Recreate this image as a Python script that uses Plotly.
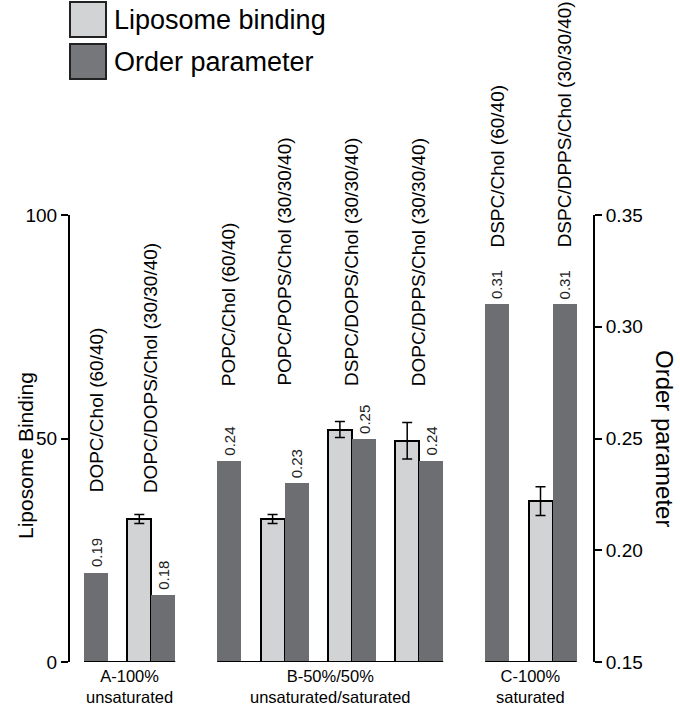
import plotly.graph_objects as go

# ---------------- data ----------------
compositions = ["DOPC/Chol (60/40)", "DOPC/DOPS/Chol (30/30/40)",
                "POPC/Chol (60/40)", "POPC/POPS/Chol (30/30/40)",
                "DSPC/DOPS/Chol (30/30/40)", "DOPC/DPPS/Chol (30/30/40)",
                "DSPC/Chol (60/40)", "DSPC/DPPS/Chol (30/30/40)"]
groups = ["A", "A", "B", "B", "B", "B", "C", "C"]
group_names = {"A": "A-100%<br>unsaturated",
               "B": "B-50%/50%<br>unsaturated/saturated",
               "C": "C-100%<br>saturated"}
binding = [None, 32.0, None, 32.0, 52.0, 49.5, None, 36.0]
binding_err = [None, 1.0, None, 1.0, 1.8, 4.1, None, 3.2]
order = [0.19, 0.18, 0.24, 0.23, 0.25, 0.24, 0.31, 0.31]
left_ticks = [0, 50, 100]
right_ticks = [0.15, 0.20, 0.25, 0.30, 0.35]

# ---------------- layout constants ----------------
W, H = 680, 707
ML, MR, MT, MB = 70, 87, 215, 45
PW = W - ML - MR
PH = H - MT - MB
BAR_W, GAP, GROUP_GAP, START = 24.0, 19.3, 42, 14
LIGHT = "#d2d3d5"
DARK = "#6d6e71"
FONT = "Liberation Sans, Arial, Helvetica, sans-serif"
label_bottom = {"A": 37.4, "B": 61.3, "C": 92.2}   # where rotated labels start (left-axis units)
label_on_dark = {"DSPC/DPPS/Chol (30/30/40)"}

# ---------------- positions ----------------
light_x, dark_x, label_x = [], [], []
group_extent = {}
cursor = START
prev = None
for i, comp in enumerate(compositions):
    g = groups[i]
    if prev is not None:
        cursor += GROUP_GAP if g != prev else GAP
    if g not in group_extent:
        group_extent[g] = [cursor, cursor]
    if binding[i] is not None:
        light_x.append(cursor + BAR_W / 2)
        cursor += BAR_W
        lx = cursor
    else:
        light_x.append(None)
        lx = None
    dark_x.append(cursor + BAR_W / 2)
    if lx is None or comp in label_on_dark:
        lx = cursor + BAR_W / 2
    cursor += BAR_W
    label_x.append(lx)
    group_extent[g][1] = cursor
    prev = g

fig = go.Figure()

lx_vals = [light_x[i] for i in range(len(compositions)) if binding[i] is not None]
ly_vals = [binding[i] for i in range(len(compositions)) if binding[i] is not None]
le_vals = [binding_err[i] for i in range(len(compositions)) if binding[i] is not None]

fig.add_trace(go.Bar(
    x=lx_vals, y=ly_vals, width=BAR_W,
    marker=dict(color=LIGHT, line=dict(color="black", width=2)),
    error_y=dict(type="data", array=le_vals, color="black", thickness=1.5, width=5),
    yaxis="y", showlegend=False))

fig.add_trace(go.Bar(
    x=dark_x, y=order, width=BAR_W,
    marker=dict(color=DARK, line=dict(width=0)),
    yaxis="y2", showlegend=False))

ann = []
# value labels over order-parameter bars
for i in range(len(compositions)):
    ann.append(dict(x=dark_x[i], y=order[i], xref="x", yref="y2", text=f"{order[i]:.2f}",
                    textangle=-90, showarrow=False, xanchor="center", yanchor="bottom",
                    yshift=3, font=dict(size=15, color="#222", family=FONT)))
# composition labels
for i, comp in enumerate(compositions):
    ann.append(dict(x=label_x[i], y=label_bottom[groups[i]], xref="x", yref="y", text=comp,
                    textangle=-90, showarrow=False, xanchor="center", yanchor="bottom",
                    font=dict(size=19, color="black", family=FONT)))
# group labels and baselines
shapes = []
for g, (x0, x1) in group_extent.items():
    ann.append(dict(x=(x0 + x1) / 2, y=0, xref="x", yref="y", text=group_names[g],
                    showarrow=False, xanchor="center", yanchor="top", yshift=-3,
                    font=dict(size=16.5, color="black", family=FONT)))
    shapes.append(dict(type="line", xref="x", yref="y", x0=x0, x1=x1, y0=0, y1=0,
                       line=dict(color="black", width=2)))


def px(xp):
    return (xp - ML) / PW


def py(yp):
    return (H - MB - yp) / PH


# axis titles
ann.append(dict(x=px(25), y=py(456), xref="paper", yref="paper", text="Liposome Binding",
                textangle=-90, showarrow=False, xanchor="center", yanchor="middle",
                font=dict(size=21, color="black", family=FONT)))
ann.append(dict(x=px(665), y=py(438), xref="paper", yref="paper", text="Order parameter",
                textangle=90, showarrow=False, xanchor="center", yanchor="middle",
                font=dict(size=24, color="black", family=FONT)))

# legend
legend_items = [("Liposome binding", LIGHT, 2), ("Order parameter", "#76777b", 44)]
for name, col, top in legend_items:
    shapes.append(dict(type="rect", xref="paper", yref="paper",
                       x0=px(70), x1=px(106), y0=py(top + 35), y1=py(top),
                       fillcolor=col, line=dict(color="#222", width=2)))
    ann.append(dict(x=px(112), y=py(top + 18), xref="paper", yref="paper", text=name,
                    showarrow=False, xanchor="left", yanchor="middle",
                    font=dict(size=27, color="black", family=FONT)))

fig.update_layout(
    width=W, height=H,
    margin=dict(l=ML, r=MR, t=MT, b=MB, pad=0),
    paper_bgcolor="white", plot_bgcolor="white",
    barmode="overlay", bargap=0,
    font=dict(family=FONT, color="black"),
    xaxis=dict(range=[0, PW], visible=False, fixedrange=True),
    yaxis=dict(range=[0, 100], tickvals=left_ticks, showline=True, linewidth=2,
               linecolor="black", ticks="outside", ticklen=7, tickwidth=2, tickcolor="black",
               tickfont=dict(size=19, family=FONT), showgrid=False, zeroline=False),
    yaxis2=dict(range=[0.15, 0.35], tickvals=right_ticks,
                ticktext=[f"{t:.2f}" for t in right_ticks],
                overlaying="y", side="right", showline=True, linewidth=2,
                linecolor="black", ticks="outside", ticklen=7, tickwidth=2, tickcolor="black",
                tickfont=dict(size=19, family=FONT), showgrid=False, zeroline=False),
    annotations=ann, shapes=shapes,
)

fig.write_html("out.html", config={"displayModeBar": False},
               post_script="document.body.style.margin='0';")
